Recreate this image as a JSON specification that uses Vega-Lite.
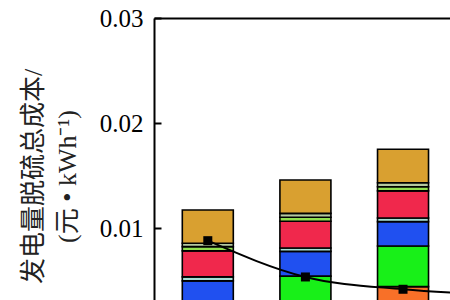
{
  "$schema": "https://vega.github.io/schema/vega-lite/v6.json",
  "autosize": {"type": "none"},
  "padding": {"left": 154, "top": 18, "right": 0, "bottom": 0},
  "width": 296,
  "height": 282,
  "background": "white",
  "config": {"view": {"stroke": null}},
  "datasets": {
    "bars": [
      {"g": 1, "k": 1, "part": "orange", "v": 0.00151},
      {"g": 1, "k": 2, "part": "green", "v": 0.0012},
      {"g": 1, "k": 3, "part": "blue", "v": 0.0023},
      {"g": 1, "k": 4, "part": "cyan", "v": 0.00038},
      {"g": 1, "k": 5, "part": "red", "v": 0.00247},
      {"g": 1, "k": 6, "part": "lightgreen", "v": 0.0004},
      {"g": 1, "k": 7, "part": "sage", "v": 0.00032},
      {"g": 1, "k": 8, "part": "gold", "v": 0.00317},
      {"g": 2, "k": 1, "part": "orange", "v": 0.00246},
      {"g": 2, "k": 2, "part": "green", "v": 0.003},
      {"g": 2, "k": 3, "part": "blue", "v": 0.00235},
      {"g": 2, "k": 4, "part": "cyan", "v": 0.00032},
      {"g": 2, "k": 5, "part": "red", "v": 0.00254},
      {"g": 2, "k": 6, "part": "lightgreen", "v": 0.00038},
      {"g": 2, "k": 7, "part": "sage", "v": 0.00038},
      {"g": 2, "k": 8, "part": "gold", "v": 0.00317},
      {"g": 3, "k": 1, "part": "orange", "v": 0.00446},
      {"g": 3, "k": 2, "part": "green", "v": 0.00387},
      {"g": 3, "k": 3, "part": "blue", "v": 0.00231},
      {"g": 3, "k": 4, "part": "cyan", "v": 0.00035},
      {"g": 3, "k": 5, "part": "red", "v": 0.00257},
      {"g": 3, "k": 6, "part": "lightgreen", "v": 0.0004},
      {"g": 3, "k": 7, "part": "sage", "v": 0.00038},
      {"g": 3, "k": 8, "part": "gold", "v": 0.00318},
      {"g": 4, "k": 1, "part": "orange", "v": 0.0062},
      {"g": 4, "k": 2, "part": "green", "v": 0.0048},
      {"g": 4, "k": 3, "part": "blue", "v": 0.0023},
      {"g": 4, "k": 4, "part": "cyan", "v": 0.00035},
      {"g": 4, "k": 5, "part": "red", "v": 0.0026},
      {"g": 4, "k": 6, "part": "lightgreen", "v": 0.0004},
      {"g": 4, "k": 7, "part": "sage", "v": 0.0004},
      {"g": 4, "k": 8, "part": "gold", "v": 0.0032}
    ],
    "line": [
      {"g": 1, "c": 0.00883},
      {"g": 2, "c": 0.00538},
      {"g": 3, "c": 0.00421},
      {"g": 4, "c": 0.00369}
    ]
  },
  "encoding": {
    "x": {
      "field": "g",
      "type": "quantitative",
      "scale": {"domain": [0.5, 3.43], "nice": false, "zero": false},
      "axis": {"orient": "top", "labels": false, "ticks": false, "grid": false, "domain": true, "domainColor": "black", "domainWidth": 2, "title": null}
    }
  },
  "layer": [
    {
      "data": {"name": "bars"},
      "mark": {"type": "bar", "width": 51, "stroke": "black", "strokeWidth": 1.6, "clip": true},
      "encoding": {
        "y": {
          "field": "v",
          "type": "quantitative",
          "stack": "zero",
          "scale": {"domain": [0.00319, 0.03], "nice": false, "zero": false},
          "axis": {
            "values": [0.01, 0.02, 0.03],
            "format": ".2f",
            "grid": false,
            "domainColor": "black",
            "domainWidth": 2,
            "tickColor": "black",
            "tickWidth": 2,
            "tickSize": -7,
            "labelPadding": 18,
            "labelFont": "'Liberation Serif'",
            "labelFontSize": 25,
            "labelFontWeight": "normal",
            "labelColor": "black",
            "title": ["发电量脱硫总成本/", "(元 • kWh⁻¹)"],
            "titleFont": "'Liberation Serif', 'Noto Sans CJK SC'",
            "titleFontSize": 26,
            "titleFontWeight": "normal",
            "titleColor": "#222222",
            "titleLineHeight": 34,
            "titlePadding": 19,
            "titleY": 158
          }
        },
        "color": {
          "field": "part",
          "type": "nominal",
          "scale": {
            "domain": ["orange", "green", "blue", "cyan", "red", "lightgreen", "sage", "gold"],
            "range": ["#F87028", "#18F018", "#2050F0", "#A8E0D8", "#F0284C", "#90E050", "#B4C8A0", "#D9A030"]
          },
          "legend": null
        },
        "order": {"field": "k", "type": "quantitative"}
      }
    },
    {
      "data": {"name": "line"},
      "mark": {"type": "line", "color": "black", "strokeWidth": 2, "interpolate": "monotone", "clip": true},
      "encoding": {"y": {"field": "c", "type": "quantitative"}}
    },
    {
      "data": {"name": "line"},
      "mark": {"type": "point", "shape": "square", "size": 81, "filled": true, "color": "black", "opacity": 1, "clip": true},
      "encoding": {"y": {"field": "c", "type": "quantitative"}}
    }
  ]
}
